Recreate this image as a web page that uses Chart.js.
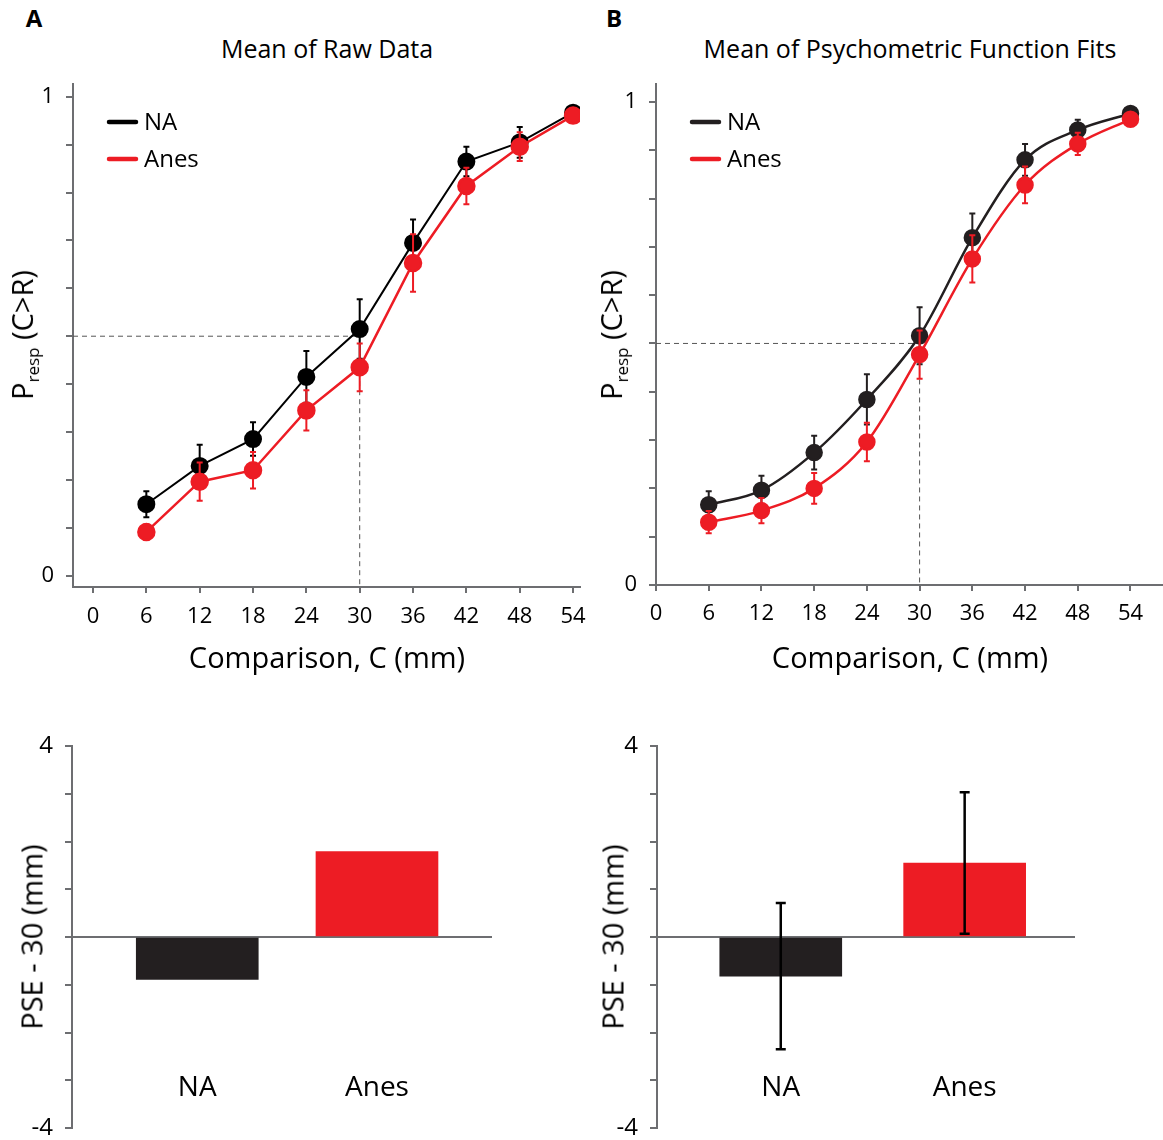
<!DOCTYPE html>
<html>
<head>
<meta charset="utf-8">
<script src="https://cdn.jsdelivr.net/npm/chart.js@4.4.1/dist/chart.umd.min.js"></script>
<style>
  body { margin: 0; background: #fff; }
  #page { position: relative; width: 1163px; height: 1140px; overflow: hidden; font-family: 'Open Sans', sans-serif; color: #000; }
  .panel { position: absolute; }
  .txt { position: absolute; white-space: nowrap; transform: translate(-50%, -50%); line-height: 1; }
  .rot { transform: translate(-50%, -50%) rotate(-90deg); }
  .letter { font-weight: bold; font-size: 24px; }
  .title { font-size: 25px; }
  .axt { font-size: 29px; }
  .axt sub { font-size: 17px; vertical-align: -0.35em; }
</style>
</head>
<body>
<div id="page">
  <div class="txt letter" style="left:34px;top:18px">A</div>
  <div class="txt letter" style="left:614px;top:18px">B</div>
  <div class="txt title" style="left:327px;top:48px">Mean of Raw Data</div>
  <div class="txt title" style="left:910px;top:48px">Mean of Psychometric Function Fits</div>

  <div class="panel" style="left:0;top:0"><canvas id="rawChart" width="600" height="700"></canvas></div>
  <div class="panel" style="left:580px;top:0"><canvas id="fitChart" width="583" height="700"></canvas></div>
  <div class="panel" style="left:0;top:700px"><canvas id="rawPse" width="520" height="440"></canvas></div>
  <div class="panel" style="left:580px;top:700px"><canvas id="fitPse" width="583" height="440"></canvas></div>

  <div class="txt axt rot" style="left:24px;top:335px">P<sub>resp</sub> (C&gt;R)</div>
  <div class="txt axt rot" style="left:613px;top:335px">P<sub>resp</sub> (C&gt;R)</div>
  <div class="txt axt" style="left:327px;top:656px">Comparison, C (mm)</div>
  <div class="txt axt" style="left:910px;top:656px">Comparison, C (mm)</div>
  <div class="txt axt rot" style="left:31px;top:937px">PSE - 30 (mm)</div>
  <div class="txt axt rot" style="left:612px;top:937px">PSE - 30 (mm)</div>
</div>

<script>
// comparison widths (mm)
const COMPARISONS = [6, 12, 18, 24, 30, 36, 42, 48, 54];

// A: mean of raw data, P(C>R) and s.e.m.
const RAW_NA        = [0.149, 0.229, 0.285, 0.415, 0.515, 0.695, 0.865, 0.905, 0.967];
const RAW_NA_ERR    = [0.027, 0.044, 0.035, 0.054, 0.062, 0.049, 0.031, 0.032, 0.006];
const RAW_ANES      = [0.091, 0.196, 0.220, 0.345, 0.435, 0.653, 0.814, 0.896, 0.961];
const RAW_ANES_ERR  = [0.016, 0.040, 0.038, 0.042, 0.050, 0.060, 0.038, 0.030, 0.006];

// B: mean of psychometric function fits
const FIT_NA        = [0.166, 0.196, 0.274, 0.384, 0.516, 0.719, 0.880, 0.942, 0.976];
const FIT_NA_ERR    = [0.028, 0.030, 0.035, 0.052, 0.059, 0.050, 0.033, 0.021, 0.006];
const FIT_ANES      = [0.130, 0.154, 0.200, 0.296, 0.477, 0.675, 0.828, 0.913, 0.964];
const FIT_ANES_ERR  = [0.023, 0.026, 0.032, 0.040, 0.050, 0.049, 0.038, 0.023, 0.006];

// PSE - 30 per group
const GROUPS        = ['NA', 'Anes'];
const PSE_RAW       = [-0.89, 1.79];
const PSE_FIT       = [-0.82, 1.55];
const PSE_FIT_ERR   = [1.53, 1.48];

const X_TICKS   = [0, 6, 12, 18, 24, 30, 36, 42, 48, 54];
const P_TICKS   = [0, 0.1, 0.2, 0.3, 0.4, 0.5, 0.6, 0.7, 0.8, 0.9, 1];
const PSE_TICKS = [-4, -3, -2, -1, 0, 1, 2, 3, 4];
const CRIT_P = 0.5, CRIT_C = 30; // dashed guides

const FONT = "'Open Sans', sans-serif";
const RED = '#ed1c24';
const DARK = '#231f20';
const AXIS = '#6d6e71';

const pts = (ys) => COMPARISONS.map((x, i) => ({ x, y: ys[i] }));
const setTicks = (vals) => (s) => { s.ticks = vals.map(v => ({ value: v })); };
const onlyEnds = (lo, hi) => (v) => (v === lo || v === hi) ? String(v) : '';
const noPad = (s) => { s.paddingTop = 0; s.paddingBottom = 0; s.paddingLeft = 0; s.paddingRight = 0; };

const errorBars = {
  id: 'errorBars',
  beforeDatasetDraw(chart, args) {
    const ds = chart.data.datasets[args.index];
    if (!ds.errors) return;
    const { ctx, scales: { x, y } } = chart;
    ctx.save();
    ctx.strokeStyle = ds.borderColor;
    ctx.lineWidth = 2;
    ds.data.forEach((p, i) => {
      const px = x.getPixelForValue(p.x);
      const t = y.getPixelForValue(p.y + ds.errors[i]);
      const b = y.getPixelForValue(p.y - ds.errors[i]);
      ctx.beginPath();
      ctx.moveTo(px, t); ctx.lineTo(px, b);
      ctx.moveTo(px - 3, t); ctx.lineTo(px + 3, t);
      ctx.moveTo(px - 3, b); ctx.lineTo(px + 3, b);
      ctx.stroke();
    });
    ctx.restore();
  }
};

const guides = {
  id: 'guides',
  beforeDatasetsDraw(chart) {
    const { ctx, chartArea, scales: { x, y } } = chart;
    const gx = x.getPixelForValue(CRIT_C), gy = y.getPixelForValue(CRIT_P);
    ctx.save();
    ctx.strokeStyle = '#555';
    ctx.lineWidth = 1;
    ctx.setLineDash([5, 4]);
    ctx.beginPath();
    ctx.moveTo(chartArea.left, gy); ctx.lineTo(gx, gy);
    ctx.moveTo(gx, gy); ctx.lineTo(gx, chartArea.bottom);
    ctx.stroke();
    ctx.restore();
  }
};

const legendBox = {
  id: 'legendBox',
  afterDraw(chart) {
    const { ctx, chartArea } = chart;
    ctx.save();
    ctx.font = '24px ' + FONT;
    ctx.textBaseline = 'middle';
    ctx.lineCap = 'round';
    ctx.lineWidth = 4.5;
    chart.data.datasets.forEach((ds, i) => {
      const y = chartArea.top + 38 + i * 37;
      const x = chartArea.left + 36;
      ctx.strokeStyle = ds.borderColor;
      ctx.beginPath(); ctx.moveTo(x, y); ctx.lineTo(x + 27, y); ctx.stroke();
      ctx.fillStyle = '#000';
      ctx.fillText(ds.label, x + 35, y + 1);
    });
    ctx.restore();
  }
};

function psychChart(id, na, naErr, anes, anesErr, opts) {
  const line = (label, data, errors, color, order, width) => ({
    label, data: pts(data), errors, order,
    borderColor: color, backgroundColor: color,
    pointBackgroundColor: color, pointBorderColor: color,
    borderWidth: width, pointRadius: opts.radius, pointHoverRadius: opts.radius,
    cubicInterpolationMode: opts.smooth ? 'monotone' : 'default', tension: 0,
  });
  return new Chart(document.getElementById(id), {
    type: 'line',
    data: {
      datasets: [
        line('NA', na, naErr, opts.dark, 2, opts.naWidth),
        line('Anes', anes, anesErr, RED, 1, 2.5),
      ],
    },
    options: {
      responsive: false,
      animation: false,
      layout: { autoPadding: false, padding: { top: 84, right: opts.padRight, left: 0, bottom: 0 } },
      plugins: { legend: { display: false }, tooltip: { enabled: false } },
      scales: {
        x: {
          type: 'linear', min: opts.xMin, max: opts.xMax,
          afterBuildTicks: setTicks(X_TICKS),
          afterFit: (s) => { s.height = opts.xAxisH; noPad(s); },
          border: { color: AXIS, width: 2 },
          grid: { drawOnChartArea: false, tickLength: 6, color: AXIS, lineWidth: 2 },
          ticks: { color: '#000', font: { family: FONT, size: 22 }, padding: opts.xPad, maxRotation: 0, autoSkip: false },
        },
        y: {
          type: 'linear', min: opts.yMin, max: opts.yMax,
          afterBuildTicks: setTicks(P_TICKS),
          afterFit: (s) => { s.width = opts.yAxisW; },
          border: { color: AXIS, width: 2 },
          grid: { drawOnChartArea: false, tickLength: 7, color: AXIS, lineWidth: 2 },
          ticks: { color: '#000', font: { family: FONT, size: 22 }, padding: 12, callback: onlyEnds(0, 1) },
        },
      },
    },
    plugins: [guides, errorBars, legendBox],
  });
}

psychChart('rawChart', RAW_NA, RAW_NA_ERR, RAW_ANES, RAW_ANES_ERR, {
  dark: '#000', naWidth: 2, radius: 8, smooth: false, xPad: 11,
  xMin: -2.25, xMax: 54.78, yMin: -0.024, yMax: 1.027,
  yAxisW: 73, xAxisH: 113, padRight: 20,
});
psychChart('fitChart', FIT_NA, FIT_NA_ERR, FIT_ANES, FIT_ANES_ERR, {
  dark: DARK, naWidth: 2.5, radius: 7.5, smooth: true, xPad: 10,
  xMin: 0, xMax: 57.7, yMin: 0, yMax: 1.037,
  yAxisW: 76, xAxisH: 115, padRight: 0,
});

const groupLabels = {
  id: 'groupLabels',
  afterDraw(chart) {
    const { ctx, chartArea, scales: { x } } = chart;
    ctx.save();
    ctx.font = '28px ' + FONT;
    ctx.fillStyle = '#000';
    ctx.textAlign = 'center';
    ctx.textBaseline = 'middle';
    GROUPS.forEach((g, i) => ctx.fillText(g, x.getPixelForValue(i + 1), chartArea.bottom - 40));
    ctx.restore();
  }
};

const barErrors = {
  id: 'barErrors',
  afterDatasetsDraw(chart) {
    const ds = chart.data.datasets[0];
    if (!ds.errors) return;
    const { ctx, scales: { x, y } } = chart;
    ctx.save();
    ctx.strokeStyle = '#000';
    ctx.lineWidth = 2.5;
    ds.data.forEach((p, i) => {
      const px = x.getPixelForValue(p.x);
      const t = y.getPixelForValue(p.y + ds.errors[i]);
      const b = y.getPixelForValue(p.y - ds.errors[i]);
      ctx.beginPath();
      ctx.moveTo(px, t); ctx.lineTo(px, b);
      ctx.moveTo(px - 5, t); ctx.lineTo(px + 5, t);
      ctx.moveTo(px - 5, b); ctx.lineTo(px + 5, b);
      ctx.stroke();
    });
    ctx.restore();
  }
};

function pseChart(id, values, errors, opts) {
  return new Chart(document.getElementById(id), {
    type: 'bar',
    data: {
      datasets: [{
        label: 'PSE - 30',
        data: GROUPS.map((g, i) => ({ x: i + 1, y: values[i] })),
        errors,
        backgroundColor: [DARK, RED],
        barThickness: 122,
      }],
    },
    options: {
      responsive: false,
      animation: false,
      layout: { padding: { top: 46, right: opts.padRight, left: 0, bottom: 12 } },
      plugins: { legend: { display: false }, tooltip: { enabled: false } },
      scales: {
        x: { type: 'linear', display: false, offset: false, min: opts.xMin, max: opts.xMax },
        y: {
          min: -4, max: 4,
          afterBuildTicks: setTicks(PSE_TICKS),
          afterFit: (s) => { s.width = opts.yAxisW; noPad(s); },
          border: { color: AXIS, width: 2 },
          grid: {
            color: (c) => (c.tick && c.tick.value === 0) ? AXIS : 'rgba(0,0,0,0)',
            tickColor: AXIS, lineWidth: 2, tickLength: 7,
          },
          ticks: { color: '#000', font: { family: FONT, size: 24 }, padding: 12, callback: onlyEnds(-4, 4) },
        },
      },
    },
    plugins: [groupLabels, barErrors],
  });
}

pseChart('rawPse', PSE_RAW, null, { xMin: 0.303, xMax: 2.64, yAxisW: 72, padRight: 28 });
pseChart('fitPse', PSE_FIT, PSE_FIT_ERR, { xMin: 0.327, xMax: 2.60, yAxisW: 77, padRight: 88 });
</script>
</body>
</html>
